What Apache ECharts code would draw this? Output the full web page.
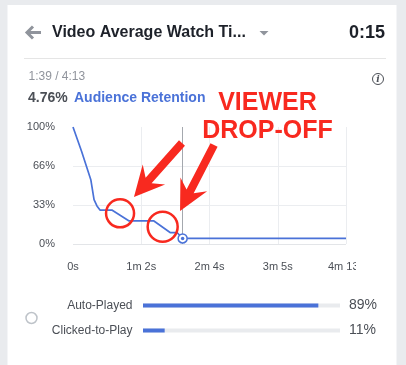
<!DOCTYPE html>
<html>
<head>
<meta charset="utf-8">
<script src="https://cdn.jsdelivr.net/npm/echarts@6/dist/echarts.min.js"></script>
<style>
html,body{margin:0;padding:0;background:#e9ebee;}
#c{width:406px;height:365px;}
</style>
</head>
<body>
<div id="c"></div>
<script>
// ---- data ----
const timeSec   = [0, 8, 16.5, 19.5, 22.2, 25, 36, 52, 75, 90, 96.4, 101.6, 253];
const retention = [100, 79, 55, 38, 32.5, 29, 29, 19.7, 19.7, 9.8, 9.8, 4.76, 4.76];
const xTickLabels = ['0s', '1m 2s', '2m 4s', '3m 5s', '4m 13s'];
const yTickLabels = ['0%', '33%', '66%', '100%'];
const videoLength = 253;
const cursorSec = 101.6;
const cursorValue = 4.76;
const playTypes = ['Auto-Played', 'Clicked-to-Play'];
const playShares = [89, 11];
// annotation anchors in data space [sec, %]
const circleAnchors = [[43.6, 26.2, 14], [83.1, 14.8, 15]];
const arrowAnchors = [ // [tailSec, tailPct, tipSec, tipPct]
  [101, 86.3, 56.5, 40.2],
  [130.7, 84.6, 99.2, 28.2]
];

const FONT = '"Liberation Sans", Arial, Helvetica, sans-serif';
const BLUE = '#4a72d8';
const RED = '#f8291f';
const TXT = '#4b4f56';

const chart = echarts.init(document.getElementById('c'), null, {renderer: 'canvas'});

const baseGraphic = [
  {type:'rect', id:'card', z:-10, shape:{x:7.5, y:5, width:389, height:380}, style:{fill:'#fff'}},
  // back arrow
  {type:'polyline', id:'back1', shape:{points:[[27,32.5],[41,32.5]]}, style:{stroke:'#90949c', lineWidth:3, fill:null}},
  {type:'polyline', id:'back2', shape:{points:[[33,26.5],[27,32.5],[33,38.5]]}, style:{stroke:'#90949c', lineWidth:3, fill:null}},
  {type:'text', id:'title', x:52, y:33, style:{text:'Video Average Watch Ti...', font:'bold 16px ' + FONT, fill:'#1d2129', verticalAlign:'middle'}},
  {type:'polygon', id:'drop', shape:{points:[[259.5,31],[268.5,31],[264,35.5]]}, style:{fill:'#90949c'}},
  {type:'text', id:'time', x:385, y:33, style:{text:'0:15', font:'bold 18px ' + FONT, fill:'#1d2129', align:'right', verticalAlign:'middle'}},
  {type:'line', id:'sep', shape:{x1:24, y1:58.5, x2:386, y2:58.5}, style:{stroke:'#e5e5e5', lineWidth:1}},
  {type:'text', id:'pos', x:28.5, y:76.5, style:{text:'1:39 / 4:13', font:'12px ' + FONT, fill:'#90949c', verticalAlign:'middle'}},
  {type:'circle', id:'info', shape:{cx:378, cy:79, r:5.5}, style:{stroke:TXT, lineWidth:1, fill:'#fff'}},
  {type:'text', id:'infoi', x:378, y:79.5, style:{text:'i', font:'italic bold 9px "DejaVu Serif", serif', fill:TXT, align:'center', verticalAlign:'middle'}},
  {type:'text', id:'pct', x:28, y:98.5, style:{text:'4.76%', font:'bold 14px ' + FONT, fill:TXT, verticalAlign:'middle'}},
  {type:'text', id:'aud', x:74, y:98.5, style:{text:'Audience Retention', font:'bold 14px ' + FONT, fill:BLUE, verticalAlign:'middle'}},
  {type:'text', id:'v1', x:267.5, y:103, z:100, style:{text:'VIEWER', font:'bold 25px ' + FONT, fill:RED, align:'center', verticalAlign:'middle'}},
  {type:'text', id:'v2', x:267.5, y:131, z:100, style:{text:'DROP-OFF', font:'bold 25px ' + FONT, fill:RED, align:'center', verticalAlign:'middle'}},
  {type:'rect', id:'clip', z:100, shape:{x:356, y:256, width:38, height:22}, style:{fill:'#fff'}},
  {type:'circle', id:'radio', shape:{cx:31.5, cy:318, r:5.5}, style:{stroke:'#bec3c9', lineWidth:1.5, fill:'#fff'}}
];

const option = {
  animation: false,
  backgroundColor: '#e9ebee',
  textStyle: {fontFamily: FONT},
  grid: [
    {left:73, right:60, top:127, height:117, containLabel:false},
    {left:143, right:66, top:293, height:50, containLabel:false}
  ],
  xAxis: [
    {
      gridIndex:0, type:'value', min:0, max:videoLength, interval:videoLength/4,
      axisLine:{show:false}, axisTick:{show:false},
      axisLabel:{color:TXT, fontSize:11, margin:17.5, fontFamily:FONT,
        formatter:(v)=>xTickLabels[Math.round(v/(videoLength/4))] || ''},
      splitLine:{show:true, lineStyle:{color:['rgba(0,0,0,0)','#ebedf0','#ebedf0','#ebedf0','#ebedf0'], width:1}}
    },
    {gridIndex:1, type:'value', min:0, max:100, show:false}
  ],
  yAxis: [
    {
      gridIndex:0, type:'value', min:0, max:100, interval:100/3,
      axisLine:{show:false}, axisTick:{show:false},
      axisLabel:{color:TXT, fontSize:11, margin:18, fontFamily:FONT,
        formatter:(v)=>yTickLabels[Math.round(v/(100/3))] || ''},
      splitLine:{show:true, lineStyle:{color:['#e3e5e8','#ebedf0','#ebedf0','rgba(0,0,0,0)'], width:1}}
    },
    {
      gridIndex:1, type:'category', data:playTypes, inverse:true,
      axisLine:{show:false}, axisTick:{show:false}, splitLine:{show:false},
      axisLabel:{color:TXT, fontSize:12, margin:10.5, fontFamily:FONT}
    },
    {
      gridIndex:1, type:'category', position:'right', inverse:true,
      data:playShares.map(v=>v + '%'),
      axisLine:{show:false}, axisTick:{show:false}, splitLine:{show:false},
      axisLabel:{color:TXT, fontSize:14, margin:9, fontFamily:FONT, align:'left'}
    }
  ],
  series: [
    {
      type:'line', xAxisIndex:0, yAxisIndex:0,
      data: timeSec.map((t,i)=>[t, retention[i]]),
      showSymbol:false, symbol:'none',
      lineStyle:{color:BLUE, width:1.7},
      z:3,
      markLine:{
        silent:true, symbol:['none','none'], label:{show:false},
        lineStyle:{color:'#a4a8ae', width:1, type:'solid'},
        data:[{xAxis:cursorSec}]
      }
    },
    {
      type:'scatter', xAxisIndex:0, yAxisIndex:0,
      data:[[cursorSec, cursorValue]], symbol:'circle', symbolSize:9,
      itemStyle:{color:'#fff', borderColor:BLUE, borderWidth:1.5, opacity:1}, z:5
    },
    {
      type:'scatter', xAxisIndex:0, yAxisIndex:0,
      data:[[cursorSec, cursorValue]], symbol:'circle', symbolSize:3.5,
      itemStyle:{color:BLUE, opacity:1}, z:6
    },
    {
      type:'bar', xAxisIndex:1, yAxisIndex:1,
      data:playShares, barWidth:4,
      showBackground:true, backgroundStyle:{color:'#e9ebee'},
      itemStyle:{color:BLUE}
    }
  ],
  graphic: baseGraphic
};

chart.setOption(option);

// annotations anchored to data coordinates
const extra = [];
circleAnchors.forEach((c, i) => {
  const p = chart.convertToPixel({gridIndex:0}, [c[0], c[1]]);
  extra.push({type:'circle', id:'circ'+i, z:100, shape:{cx:p[0], cy:p[1], r:c[2]}, style:{stroke:RED, lineWidth:2.5, fill:null}});
});
arrowAnchors.forEach((a, i) => {
  const tail = chart.convertToPixel({gridIndex:0}, [a[0], a[1]]);
  const tip = chart.convertToPixel({gridIndex:0}, [a[2], a[3]]);
  const dx = tip[0]-tail[0], dy = tip[1]-tail[1];
  const len = Math.hypot(dx, dy);
  const ux = dx/len, uy = dy/len, vx = -uy, vy = ux;
  const L = 30, W = 15, t = 4, N = 22;
  const pt = (along, perp) => [tip[0] - ux*along + vx*perp, tip[1] - uy*along + vy*perp];
  const pts = [pt(0,0), pt(L, W), pt(N, t), pt(len, t), pt(len, -t), pt(N, -t), pt(L, -W)];
  extra.push({type:'polygon', id:'arr'+i, z:100, shape:{points:pts}, style:{fill:RED}});
});
chart.setOption({graphic: baseGraphic.concat(extra)});
</script>
</body>
</html>
